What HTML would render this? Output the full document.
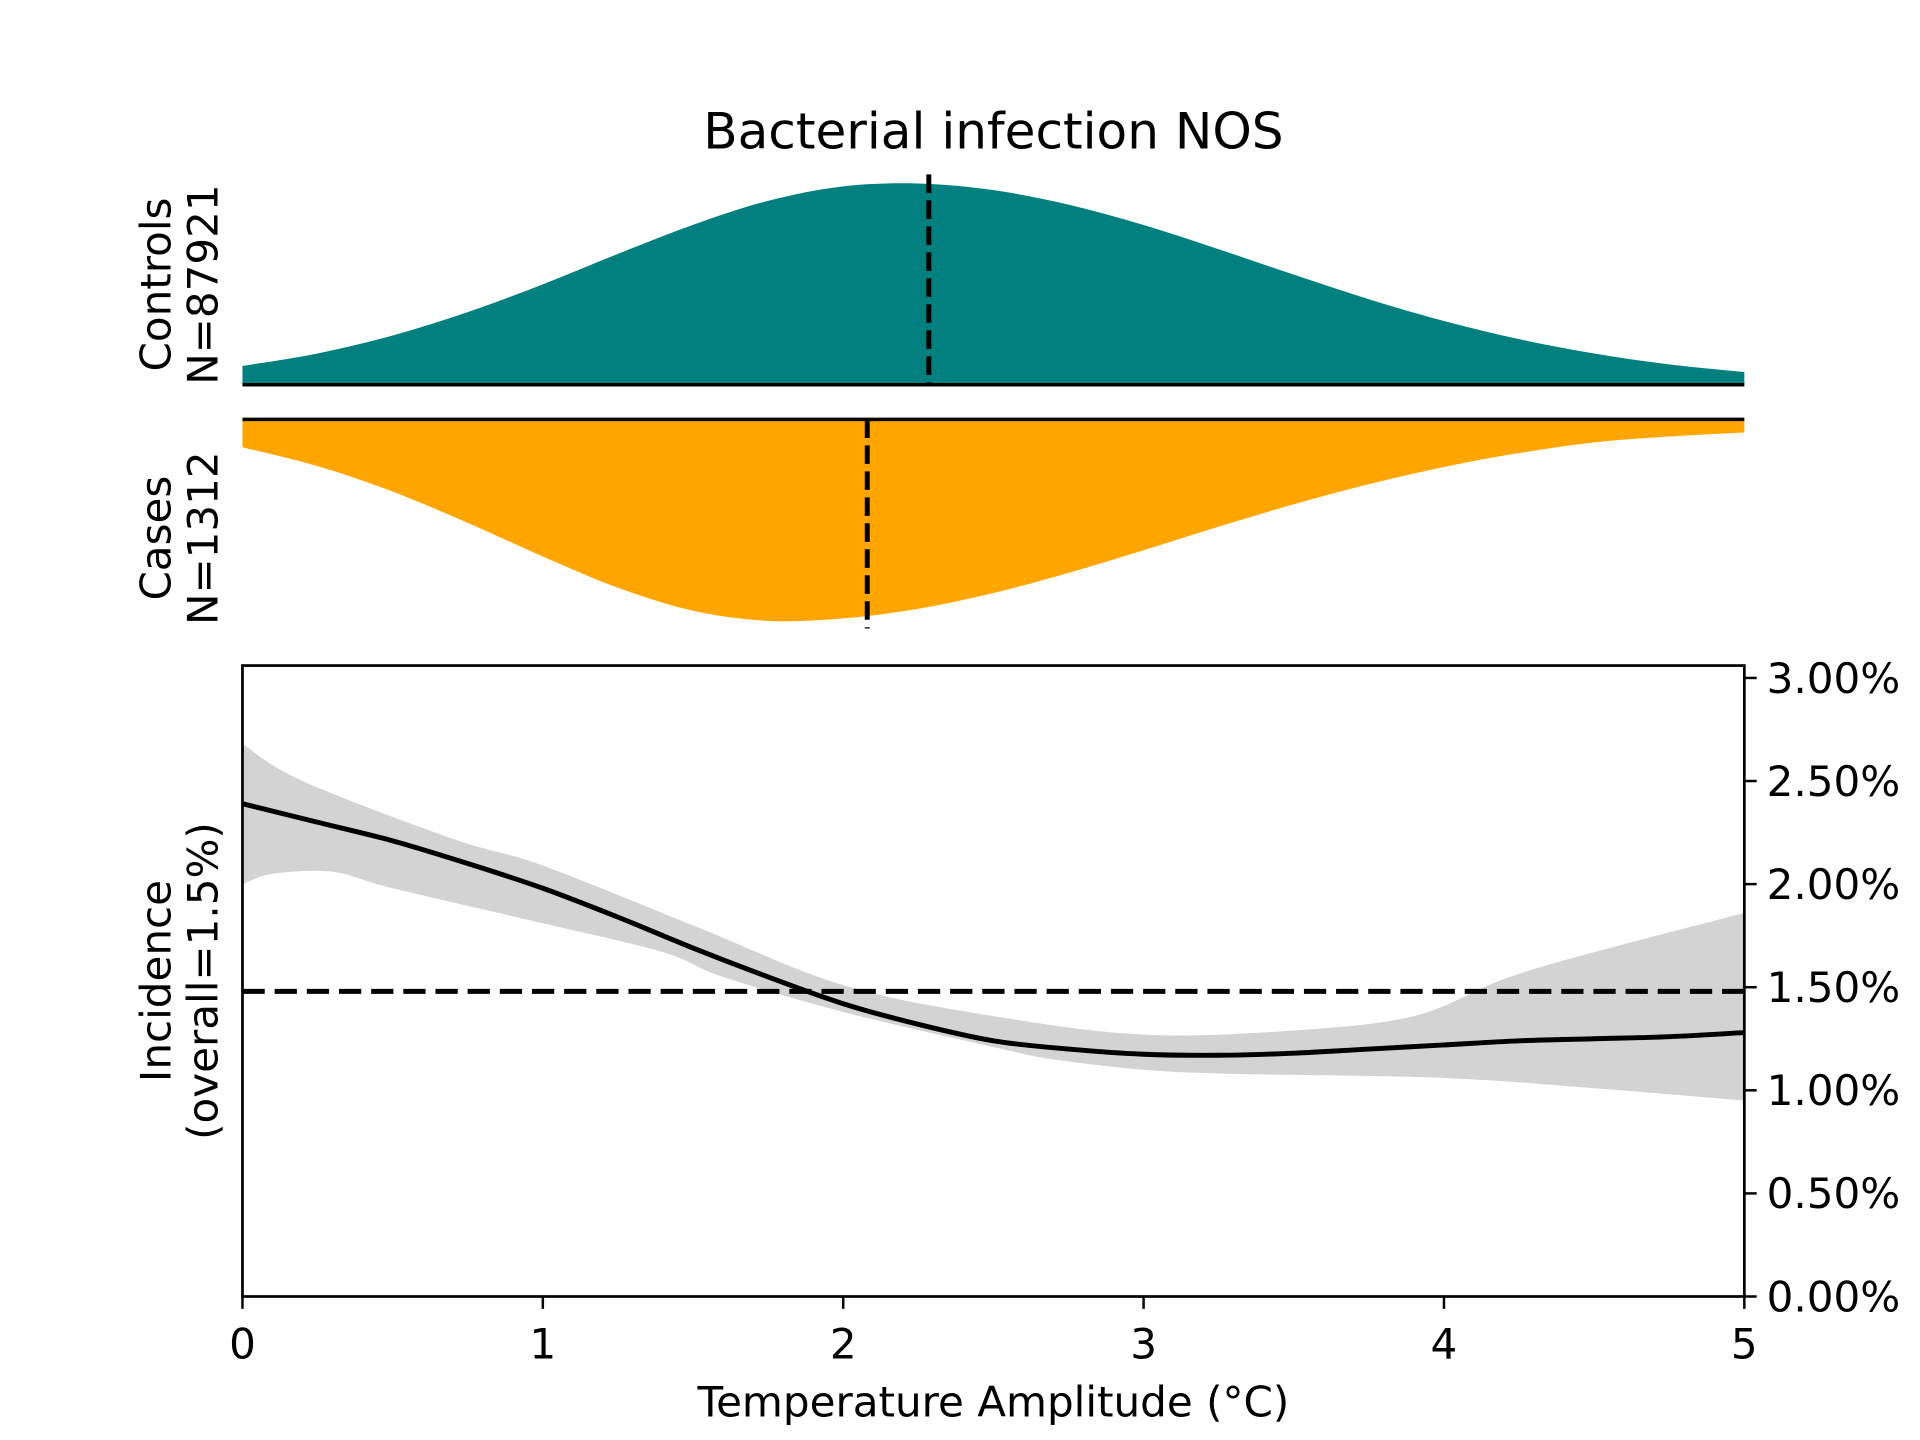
<!DOCTYPE html>
<html><head><meta charset="utf-8">
<style>
html,body{margin:0;padding:0;background:#fff;}
svg{display:block;font-family:"DejaVu Sans","Liberation Sans",sans-serif;}
</style></head>
<body>
<svg id="chart" width="1920" height="1440" viewBox="0 0 1552 1164" xmlns="http://www.w3.org/2000/svg">
<text x="803" y="120" font-size="40.5" text-anchor="middle">Bacterial infection NOS</text>
<g id="gtop"></g>
<g id="gmid"></g>
<g id="gbot"></g>
</svg>
<script>
// ---- data ----
const densX = [0,0.25,0.5,0.75,1,1.25,1.5,1.75,2,2.25,2.5,2.75,3,3.25,3.5,3.75,4,4.25,4.5,4.75,5];
const controlsDensity = [0.093,0.155,0.244,0.36,0.498,0.649,0.793,0.912,0.984,0.998,0.965,0.893,0.792,0.672,0.546,0.424,0.316,0.226,0.155,0.101,0.063];
const casesDensity = [0.138,0.232,0.358,0.513,0.68,0.835,0.949,0.999,0.987,0.939,0.861,0.761,0.649,0.532,0.421,0.321,0.236,0.167,0.114,0.085,0.065];
const controlsMean = 2.285;
const casesMean = 2.08;
const lineX = [0,0.25,0.5,0.75,1,1.25,1.5,1.75,2,2.25,2.5,2.75,3,3.25,3.5,3.75,4,4.25,4.5,4.75,5];
const incidence = [2.39,2.30,2.21,2.10,1.98,1.84,1.69,1.55,1.42,1.32,1.24,1.20,1.175,1.17,1.18,1.20,1.22,1.24,1.25,1.26,1.28];
const upperX = [0,0.2,0.7,1,1.5,2,2.5,3,3.5,3.9,4.2,4.5,5];
const upperBand = [2.68,2.50,2.22,2.09,1.80,1.51,1.36,1.27,1.29,1.36,1.54,1.67,1.86];
const lowerX = [0,0.1,0.3,0.5,1,1.4,1.6,2,2.5,2.7,3,3.3,4,4.5,5];
const lowerBand = [2.0,2.05,2.06,1.98,1.81,1.67,1.55,1.38,1.21,1.15,1.10,1.08,1.06,1.01,0.95];
const overall = 1.48;
const xTicks = [0,1,2,3,4,5];
const yTicks = [0,0.5,1,1.5,2,2.5,3];
const yTickLabels = ["0.00%","0.50%","1.00%","1.50%","2.00%","2.50%","3.00%"];

const NS="http://www.w3.org/2000/svg";
const PL=196,PR=1410;
const sx=v=>PL+(PR-PL)*v/5;
const BT=538,BB=1048,YMAX=3.06;
const sy=v=>BB-(BB-BT)*v/YMAX;
const FS=34;
function mk(tag,attrs,parent){const e=document.createElementNS(NS,tag);for(const k in attrs)e.setAttribute(k,attrs[k]);parent.appendChild(e);return e;}
function smooth(pts){let d=`M${pts[0][0]},${pts[0][1]}`;for(let i=0;i<pts.length-1;i++){const p0=pts[i-1]||pts[i],p1=pts[i],p2=pts[i+1],p3=pts[i+2]||p2;const c1=[p1[0]+(p2[0]-p0[0])/6,p1[1]+(p2[1]-p0[1])/6],c2=[p2[0]-(p3[0]-p1[0])/6,p2[1]-(p3[1]-p1[1])/6];d+=`C${c1[0]},${c1[1]} ${c2[0]},${c2[1]} ${p2[0]},${p2[1]}`;}return d;}
function rot(parent,x,y,txt,name){const t=mk('text',{x:x,y:y,'font-size':FS,'text-anchor':'middle',transform:`rotate(-90 ${x} ${y})`},parent);t.textContent=txt;

return t;}

function draw(){
const gTop=document.getElementById('gtop');
const CB=311,CT=148;
let pts=densX.map((x,i)=>[sx(x),CB-(CB-CT)*controlsDensity[i]]);
let p=mk('path',{d:smooth(pts)+`L${PR},${CB}L${PL},${CB}Z`,fill:'#028080'},gTop);


let l=mk('line',{x1:PL,x2:PR,y1:CB,y2:CB,stroke:'#000','stroke-width':2.8},gTop);


l=mk('line',{x1:sx(controlsMean),x2:sx(controlsMean),y1:141,y2:311,stroke:'#000','stroke-width':4,'stroke-dasharray':'15 6'},gTop);


rot(gTop,138,230,'Controls','controls-label');
rot(gTop,176,230,'N=87921','controls-n-label');

const gMid=document.getElementById('gmid');
const KT=339,KB=502;
pts=densX.map((x,i)=>[sx(x),KT+(KB-KT)*casesDensity[i]]);
p=mk('path',{d:smooth(pts)+`L${PR},${KT}L${PL},${KT}Z`,fill:'#FFA500'},gMid);


l=mk('line',{x1:PL,x2:PR,y1:KT,y2:KT,stroke:'#000','stroke-width':2.8},gMid);


l=mk('line',{x1:sx(casesMean),x2:sx(casesMean),y1:339,y2:508,stroke:'#000','stroke-width':4,'stroke-dasharray':'15 6'},gMid);


rot(gMid,138,435,'Cases','cases-label');
rot(gMid,176,435,'N=1312','cases-n-label');

const gBot=document.getElementById('gbot');
const up=upperX.map((x,i)=>[sx(x),sy(upperBand[i])]);
const lo=lowerX.map((x,i)=>[sx(x),sy(lowerBand[i])]).reverse();
p=mk('path',{d:smooth(up)+'L'+smooth(lo).slice(1)+'Z',fill:'#d3d3d3'},gBot);


l=mk('line',{x1:PL,x2:PR,y1:sy(overall),y2:sy(overall),stroke:'#000','stroke-width':4,'stroke-dasharray':'18 8'},gBot);


p=mk('path',{d:smooth(lineX.map((x,i)=>[sx(x),sy(incidence[i])])),fill:'none',stroke:'#000','stroke-width':4},gBot);


const fr=mk('rect',{x:PL,y:BT,width:PR-PL,height:BB-BT,fill:'none',stroke:'#000','stroke-width':2.2},gBot);


xTicks.forEach(v=>{
  const t=mk('line',{x1:sx(v),x2:sx(v),y1:BB,y2:BB+10,stroke:'#000','stroke-width':2},gBot);
  
  
  const tx=mk('text',{x:sx(v),y:1098,'font-size':FS,'text-anchor':'middle'},gBot);tx.textContent=v;
  
  
});
yTicks.forEach((v,i)=>{
  const t=mk('line',{x1:PR,x2:PR+10,y1:sy(v),y2:sy(v),stroke:'#000','stroke-width':2},gBot);
  
  
  const tx=mk('text',{x:1428,y:sy(v)+12,'font-size':FS},gBot);tx.textContent=yTickLabels[i];
  
  
});
const xl=mk('text',{x:803,y:1145,'font-size':FS,'text-anchor':'middle'},gBot);xl.textContent='Temperature Amplitude (°C)';


rot(gBot,138,793,'Incidence','y-axis-title');
rot(gBot,176,793,'(overall=1.5%)','y-axis-subtitle');
}
draw();
</script>
</body></html>
